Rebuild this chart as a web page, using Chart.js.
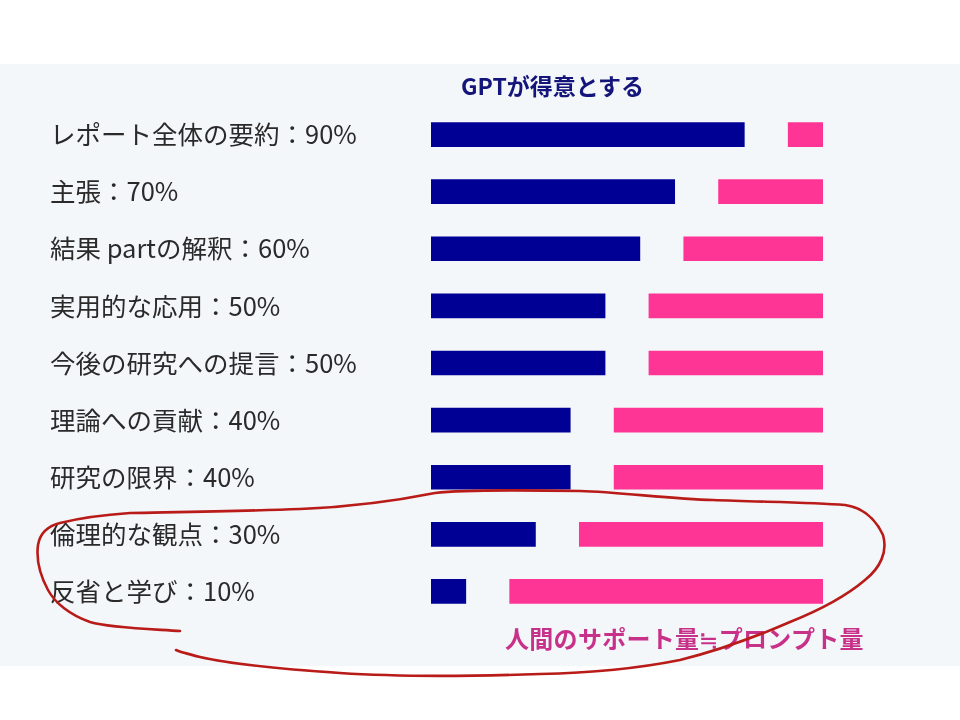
<!DOCTYPE html>
<html lang="ja">
<head>
<meta charset="utf-8">
<script src="https://cdn.jsdelivr.net/npm/chart.js@4"></script>
<style>
  body { margin: 0; background: #fff; }
  #wrap { position: relative; width: 960px; height: 720px; overflow: hidden; }
  #panel { position: absolute; left: 0; top: 64px; width: 960px; height: 602px; background: #f4f7fa; }
  #chart-box { position: absolute; left: 0; top: 0; width: 960px; height: 720px; }
  .note { position: absolute; font-family: "Noto Sans CJK JP", sans-serif; font-weight: 700; white-space: nowrap; line-height: 1; }
  #top-note { left: 461px; top: 74px; font-size: 23px; color: #14157a; }
  #bottom-note { left: 505px; top: 626px; font-size: 24px; letter-spacing: 0.3px; color: #c8318a; }
  #circle { position: absolute; left: 0; top: 0; }
</style>
</head>
<body>
<div id="wrap">
  <div id="panel"></div>
  <div id="chart-box"><canvas id="bar-chart"></canvas></div>
  <div class="note" id="top-note">GPTが得意とする</div>
  <div class="note" id="bottom-note">人間のサポート量≒プロンプト量</div>
  <svg id="circle" width="960" height="720">
    <!-- 手書きの赤い囲み -->
    <path d="M180,631 C150,629 110,628 90,622 C70,615 55,603 48,590 C40,575 36,560 38,545 C40,533 48,526 60,523 C80,518 100,515 130,513 C180,512 250,511 300,509 C350,507 400,500 435,493 C460,490 520,490 580,491 C620,492 670,499 713,500 C760,502 810,502 845,505 C865,508 876,520 883,535 C888,552 880,568 865,580 C845,597 820,610 790,622 C760,635 720,650 680,660 C640,668 590,673 540,674 C480,676 400,677 340,673 C280,669 230,664 200,657 C188,654 180,652 176,650"
      fill="none" stroke="#b81b18" stroke-width="2.6" stroke-linecap="round" stroke-linejoin="round"/>
  </svg>
</div>
<script>
// 項目名とGPTが得意な割合(%)
const categories = [
  "レポート全体の要約",
  "主張",
  "結果 partの解釈",
  "実用的な応用",
  "今後の研究への提言",
  "理論への貢献",
  "研究の限界",
  "倫理的な観点",
  "反省と学び",
];
const gptShare = [90, 70, 60, 50, 50, 40, 40, 30, 10];
// 人間のサポート量 = 100 - GPTの割合
const humanShare = gptShare.map((p) => 100 - p);
const tickLabels = categories.map((c, i) => c + "：" + gptShare[i] + "%");

// 青とピンクの間のすき間(%単位)
const GAP = 12.6;

const ctx = document.querySelector("#bar-chart").getContext("2d");

const barChart = new Chart(ctx, {
  type: "bar",
  data: {
    labels: tickLabels,
    datasets: [
      {
        label: "GPTが得意とする",
        data: gptShare,
        backgroundColor: "#000094",
        grouped: false,
        barThickness: 24,
      },
      {
        label: "人間のサポート量≒プロンプト量",
        data: humanShare.map((h, i) => [gptShare[i] + GAP, gptShare[i] + GAP + h]),
        backgroundColor: "#ff3596",
        grouped: false,
        barThickness: 24,
      },
    ],
  },
  options: {
    indexAxis: "y",
    responsive: true,
    maintainAspectRatio: false,
    animation: false,
    layout: { padding: { left: 50, right: 137, top: 106, bottom: 100 } },
    plugins: {
      legend: { display: false },
      tooltip: { enabled: false },
    },
    scales: {
      x: { display: false, min: 0, max: 100 + GAP },
      y: {
        grid: { display: false },
        border: { display: false },
        ticks: {
          crossAlign: "far",
          color: "#2a2a2a",
          font: { family: "'Noto Sans CJK JP', sans-serif", size: 25.5 },
        },
        afterFit: (scale) => {
          scale.width = 381;
        },
      },
    },
  },
});
</script>
</body>
</html>
